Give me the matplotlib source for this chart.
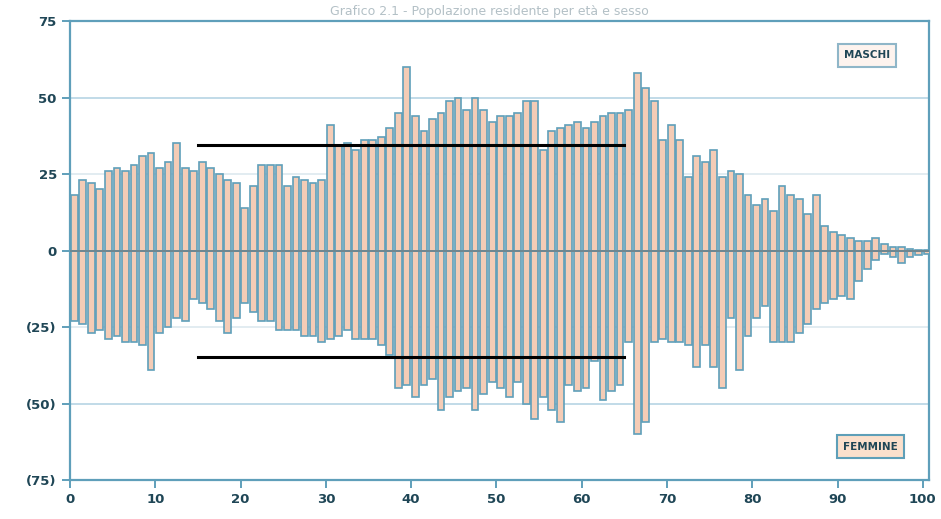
import numpy as np
import matplotlib
matplotlib.use("Agg")
import matplotlib.pyplot as plt

# ---- data ----
ages = list(range(0, 101))
maschi = [18, 23, 22, 20, 26, 27, 26, 28, 31, 32,
          27, 29, 35, 27, 26, 29, 27, 25, 23, 22,
          14, 21, 28, 28, 28, 21, 24, 23, 22, 23,
          41, 34, 35, 33, 36, 36, 37, 40, 45, 60,
          44, 39, 43, 45, 49, 50, 46, 50, 46, 42,
          44, 44, 45, 49, 49, 33, 39, 40, 41, 42,
          40, 42, 44, 45, 45, 46, 58, 53, 49, 36,
          41, 36, 24, 31, 29, 33, 24, 26, 25, 18,
          15, 17, 13, 21, 18, 17, 12, 18, 8, 6,
          5, 4, 3, 3, 4, 2, 1, 1, 0.5, 0.3, 0.2]
femmine = [23, 24, 27, 26, 29, 28, 30, 30, 31, 39,
           27, 25, 22, 23, 16, 17, 19, 23, 27, 22,
           17, 20, 23, 23, 26, 26, 26, 28, 28, 30,
           29, 28, 26, 29, 29, 29, 31, 34, 45, 44,
           48, 44, 42, 52, 48, 46, 45, 52, 47, 43,
           45, 48, 43, 50, 55, 48, 52, 56, 44, 46,
           45, 36, 49, 46, 44, 30, 60, 56, 30, 29,
           30, 30, 31, 38, 31, 38, 45, 22, 39, 28,
           22, 18, 30, 30, 30, 27, 24, 19, 17, 16,
           15, 16, 10, 6, 3, 1, 2, 4, 2, 1.5, 1]
media_range = [15, 65]        # eta' 15-64
media_maschi = 34.6
media_femmine = 34.7
yticks = [-75, -50, -25, 0, 25, 50, 75]
ylabels = ["(75)", "(50)", "(25)", "0", "25", "50", "75"]
xticks = list(range(0, 101, 10))
titolo = "Grafico 2.1 - Popolazione residente per età e sesso"

blu = "#5f9fba"
salmone = "#f4ccb6"
testo = "#1f4656"

fig = plt.figure(figsize=(9.41, 5.19), dpi=100)
ax = fig.add_axes([0.0744, 0.0751, 0.9126, 0.8844])

x = np.array(ages) + 0.5
ax.bar(x, maschi, width=0.8, facecolor=salmone, edgecolor=blu, linewidth=1.2, zorder=3)
ax.bar(x, -np.array(femmine), width=0.8, facecolor=salmone, edgecolor=blu, linewidth=1.2, zorder=3)

# grid
for g in [50, -50]:
    ax.axhline(g, color="#bcd8e6", lw=1.3, zorder=1)
for g in [25, -25]:
    ax.axhline(g, color="#dde9ef", lw=1.2, zorder=1)
ax.axhline(0, color="#6f8790", lw=1.4, zorder=4)

# medie 15-64
ax.plot(media_range, [media_maschi, media_maschi], color="black", lw=2.2, zorder=5)
ax.plot(media_range, [-media_femmine, -media_femmine], color="black", lw=2.2, zorder=5)

ax.set_xlim(0, 100.7)
ax.set_ylim(-75, 75)
ax.set_yticks(yticks)
ax.set_yticklabels(ylabels)
ax.set_xticks(xticks)
for s in ax.spines.values():
    s.set_color(blu)
    s.set_linewidth(1.6)
ax.tick_params(axis="both", colors=blu, width=1.4, length=6, direction="out")
for lab in ax.get_xticklabels() + ax.get_yticklabels():
    lab.set_color(testo)
    lab.set_fontsize(9.5)
    lab.set_fontweight("bold")

ax.text(0.928, 0.925, "MASCHI", transform=ax.transAxes, ha="center", va="center",
        fontsize=7.5, fontweight="bold", color=testo, zorder=6,
        bbox=dict(boxstyle="square,pad=0.6", facecolor="#fdf3ee", edgecolor="#8fb6c8", lw=1.5))
ax.text(0.932, 0.073, "FEMMINE", transform=ax.transAxes, ha="center", va="center",
        fontsize=7.5, fontweight="bold", color=testo, zorder=6,
        bbox=dict(boxstyle="square,pad=0.6", facecolor="#fbe0cc", edgecolor="#5e9fb8", lw=1.5))

fig.text(0.52, 0.99, titolo, ha="center", va="top", fontsize=9, color="#b3c0c6")

fig.savefig("out.png", dpi=100)
